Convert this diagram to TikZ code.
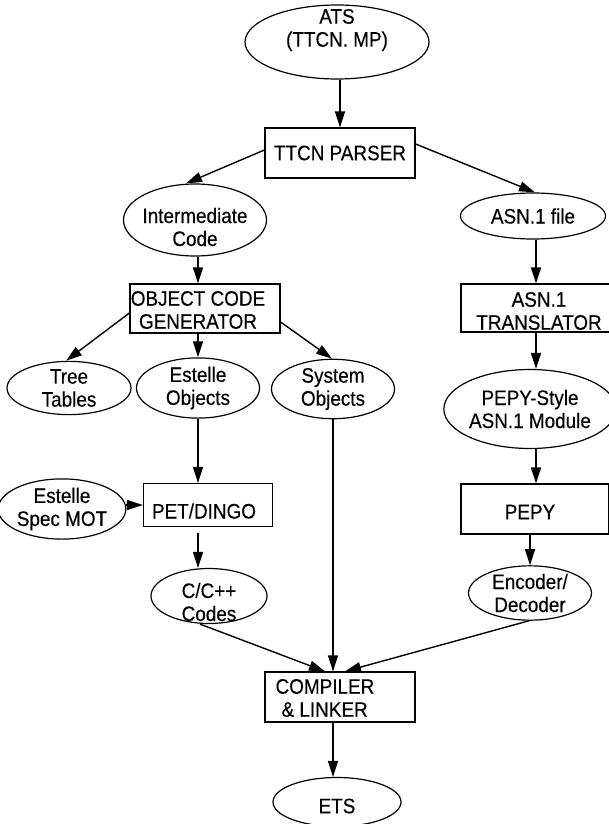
\documentclass[tikz,border=0pt]{standalone}
\usepackage{fontspec}
\setmainfont{Liberation Sans}[FakeStretch=0.9,FakeBold=0.3]
\usetikzlibrary{arrows.meta,shapes.geometric,calc}
\tikzset{
  txt/.style={font=\fontsize{21}{23}\selectfont, align=center, inner sep=0pt},
  boxn/.style={txt, draw, line width=1.2pt, rectangle},
  ell/.style={txt, draw, line width=1.2pt, ellipse},
  conn/.style={line width=1.4pt, -{Triangle[length=16pt,width=10pt]}},
  inlab/.style={txt}
}
\begin{document}
\begin{tikzpicture}[x=1pt,y=-1pt]
\useasboundingbox (0,0) rectangle (608,824);
% shapes
\node[ell, minimum width=184pt, minimum height=74pt,
  label={[inlab,yshift=12pt]center:ATS\\(TTCN. MP)}] (ats) at (337,42) {};
\node[boxn, minimum width=150pt, minimum height=50pt] (ttcn) at (340,153) {TTCN PARSER};
\node[ell, minimum width=143pt, minimum height=72pt,
  label={[inlab,yshift=-7pt]center:Intermediate\\Code}] (int) at (195,220) {};
\node[ell, minimum width=145pt, minimum height=46pt] (asn) at (533,216) {ASN.1 file};
\node[boxn, minimum width=150pt, minimum height=49pt,
  label={[inlab,xshift=-7pt,yshift=-1.5pt]center:OBJECT CODE\\GENERATOR}] (ocg) at (205,308.5) {};
\node[boxn, minimum width=156pt, minimum height=48pt,
  label={[inlab,yshift=-3pt]center:ASN.1\\TRANSLATOR}] (tr) at (539,308) {};
\node[ell, minimum width=124pt, minimum height=51pt] (tree) at (69,388) {Tree\\Tables};
\node[ell, minimum width=123pt, minimum height=51pt] (eo) at (198,388) {Estelle\\Objects};
\node[ell, minimum width=123pt, minimum height=51pt] (so) at (333,389) {System\\Objects};
\node[ell, minimum width=151pt, minimum height=79pt] (ps) at (530,409) {PEPY-Style\\ASN.1 Module};
\node[ell, minimum width=108pt, minimum height=60pt] (mot) at (62,509) {Estelle\\Spec MOT};
\node[boxn, minimum width=129pt, minimum height=43pt,
  label={[inlab,xshift=-4pt,yshift=-6pt]center:PET/DINGO}] (pet) at (208,505) {};
\node[boxn, minimum width=148pt, minimum height=50pt,
  label={[inlab,xshift=-5pt,yshift=-3pt]center:PEPY}] (pepy) at (535,509) {};
\node[ell, minimum width=116pt, minimum height=55pt,
  label={[inlab,yshift=-6pt]center:C/C++\\Codes}] (cpp) at (209,596) {};
\node[ell, minimum width=123pt, minimum height=48pt] (enc) at (530,593) {Encoder/\\Decoder};
\node[boxn, minimum width=150pt, minimum height=50pt,
  label={[inlab,anchor=west,align=left,xshift=11pt,yshift=-1pt]west:COMPILER\\\hspace*{6pt}\& LINKER}] (cl) at (340,697) {};
\node[ell, minimum width=128pt, minimum height=49pt,
  label={[inlab,yshift=-4pt]center:ETS}] (ets) at (337,802) {};
% connectors
\draw[conn] (ttcn.north |- ats.south) -- (ttcn.north);
\draw[conn] ([yshift=3pt]ttcn.west) -- ([xshift=-9pt]int.north);
\draw[conn] ([yshift=9pt]ttcn.east) -- ([xshift=2pt]asn.north);
\draw[conn] ([xshift=3pt]int.south) -- ([xshift=3pt]int.south |- ocg.north);
\draw[conn] ([xshift=3pt]asn.south) -- ([xshift=3pt]asn.south |- tr.north);
\draw[conn] ([yshift=-4.5pt]ocg.west) -- ([xshift=-3pt]tree.north);
\draw[conn] (eo.north |- ocg.south) -- (eo.north);
\draw[conn] ([yshift=-13.5pt]ocg.east) -- ([xshift=-1pt]so.north);
\draw[conn] ([xshift=-3pt]tr.south) -- ([xshift=-3pt]tr.south |- ps.north);
\draw[conn] (eo.south) -- (eo.south |- pet.north);
\draw[conn] (pet.west -| mot.east) -- (pet.west);
\draw[conn] ([xshift=-10pt,yshift=-6pt]pet.south) -- ([xshift=-10pt]pet.south |- cpp.north);
\draw[conn] ([xshift=6pt]ps.south) -- ([xshift=6pt]ps.south |- pepy.north);
\draw[conn] (enc.north |- pepy.south) -- (enc.north);
\draw[conn] (so.south) -- (so.south |- cl.north);
\draw[conn] ([xshift=-9pt]cpp.south) -- ([xshift=-15pt]cl.north);
\draw[conn] ([xshift=-1pt]enc.south) -- ([xshift=5pt]cl.north);
\draw[conn] ([xshift=-7pt]cl.south) -- ([xshift=-7pt]cl.south |- ets.north);
\end{tikzpicture}
\end{document}
